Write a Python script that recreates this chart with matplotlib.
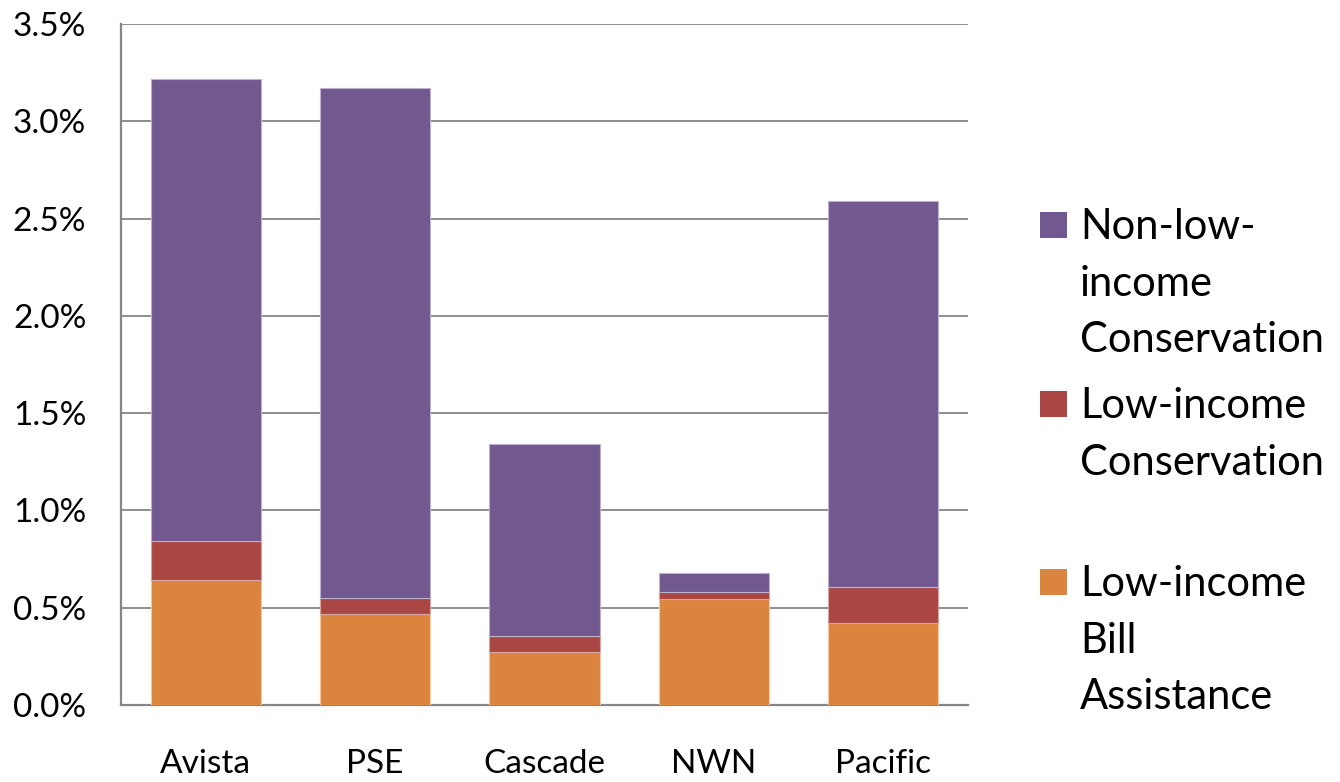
import numpy as np
import matplotlib.pyplot as plt
from matplotlib.patches import Rectangle

# werte in prozent
utilities = ["Avista", "PSE", "Cascade", "NWN", "Pacific"]
bill_assist = [0.64, 0.466, 0.273, 0.546, 0.423]
low_cons = [0.203, 0.084, 0.083, 0.036, 0.183]
nonlow_cons = [2.375, 2.62, 0.986, 0.096, 1.983]
yticks = [0.0, 0.5, 1.0, 1.5, 2.0, 2.5, 3.0, 3.5]

c_orange = "#DB843D"
c_red = "#AA4643"
c_purple = "#71588F"
grid_col = "#868686"

plt.rcParams["font.family"] = ["Lato", "DejaVu Sans"]

fig = plt.figure(figsize=(13.4, 7.82), dpi=100)
ax = fig.add_axes([0.0903, 0.0985, 0.6321, 0.8708])

x = np.arange(len(utilities))
b1 = ax.bar(x, bill_assist, 0.65, color=c_orange, edgecolor="#F2C9A6", linewidth=0.8, zorder=3)
b2 = ax.bar(x, low_cons, 0.65, bottom=bill_assist, color=c_red, edgecolor="#D8A4A3", linewidth=0.8, zorder=3)
bot = np.array(bill_assist) + np.array(low_cons)
b3 = ax.bar(x, nonlow_cons, 0.65, bottom=bot, color=c_purple, edgecolor="#BDB1CC", linewidth=0.8, zorder=3)

ax.set_xlim(-0.5, len(utilities) - 0.5)
ax.set_ylim(0, 3.5)
ax.set_yticks(yticks)
ax.set_yticklabels(["%.1f%%" % v for v in yticks])
ax.set_xticks(x)
ax.set_xticklabels(utilities)
ax.yaxis.grid(True, color=grid_col, linewidth=1.3, zorder=0)
ax.tick_params(axis="both", length=0, labelsize=24)
ax.tick_params(axis="y", pad=25)
ax.tick_params(axis="x", pad=32)
for s in ["top", "right"]:
    ax.spines[s].set_visible(False)
for s in ["left", "bottom"]:
    ax.spines[s].set_color(grid_col)
    ax.spines[s].set_linewidth(1.6)

# legende von hand, wie in excel
legend_items = [
    (b3, "Non-low-\nincome\nConservation", 238),
    (b2, "Low-income\nConservation", 417),
    (b1, "Low-income\nBill\nAssistance", 595),
]
W, H = 1340.0, 782.0
for cont, lab, ybot in legend_items:
    fc = cont.patches[0].get_facecolor()
    fig.patches.append(Rectangle((1040 / W, 1 - ybot / H), 27 / W, 26 / H,
                                 transform=fig.transFigure, facecolor=fc, edgecolor="none"))
    fig.text(1080 / W, 1 - (ybot - 30) / H, lab, fontsize=30, va="top", ha="left",
             linespacing=1.6)

fig.savefig("out.png", dpi=100)
